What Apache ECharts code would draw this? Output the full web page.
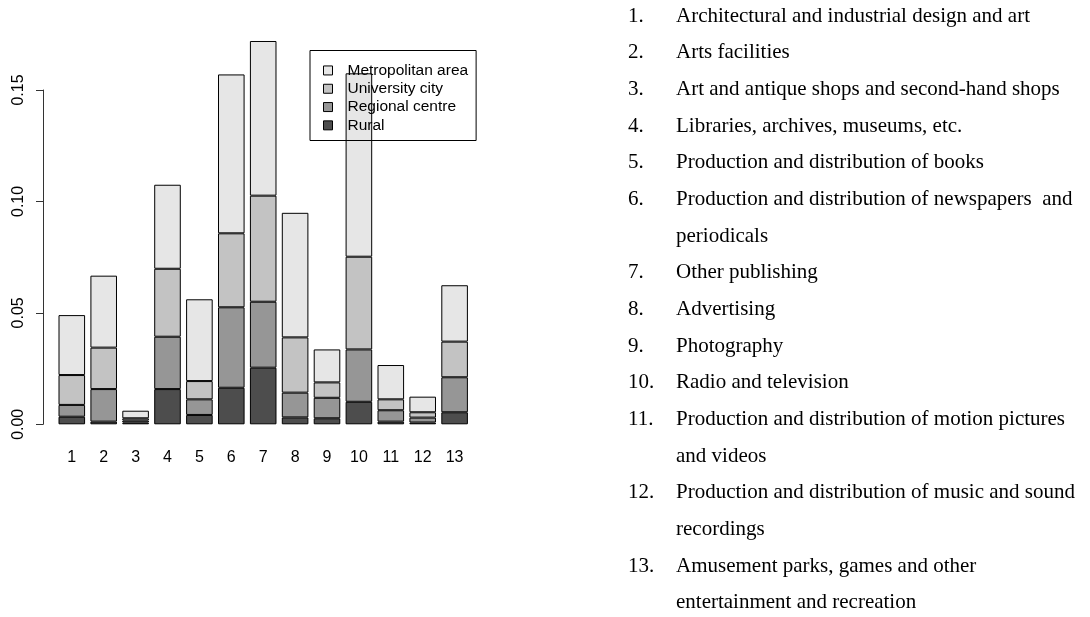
<!DOCTYPE html>
<html>
<head>
<meta charset="utf-8">
<script src="https://cdn.jsdelivr.net/npm/echarts@6/dist/echarts.min.js"></script>
<style>
html,body{margin:0;padding:0;background:#fff;}
#chart{width:1090px;height:617px;}
</style>
</head>
<body>
<div id="chart"></div>
<script>
// Categories (bar labels)
var categories = ['1','2','3','4','5','6','7','8','9','10','11','12','13'];
// Series names (legend order, top to bottom)
var seriesNames = ['Metropolitan area','University city','Regional centre','Rural'];
// Segment values (stacked from bottom: Rural, Regional centre, University city, Metropolitan area)
var rural        = [0.0034,0.0012,0.0008,0.0158,0.0042,0.0164,0.0254,0.0031,0.0027,0.0101,0.0012,0.0008,0.0054];
var regional     = [0.0053,0.0146,0.0009,0.0235,0.0070,0.0361,0.0296,0.0111,0.0092,0.0235,0.0051,0.0022,0.0157];
var university   = [0.0134,0.0186,0.0010,0.0305,0.0082,0.0332,0.0476,0.0248,0.0069,0.0416,0.0049,0.0024,0.0160];
var metropolitan = [0.0269,0.0323,0.0034,0.0377,0.0367,0.0713,0.0694,0.0559,0.0148,0.0823,0.0154,0.0070,0.0253];
// Y tick values
var yTicks = [0, 0.05, 0.10, 0.15];
// Category descriptions (each entry: wrapped lines)
var descriptions = [
  ['Architectural and industrial design and art'],
  ['Arts facilities'],
  ['Art and antique shops and second-hand shops'],
  ['Libraries, archives, museums, etc.'],
  ['Production and distribution of books'],
  ['Production and distribution of newspapers  and', 'periodicals'],
  ['Other publishing'],
  ['Advertising'],
  ['Photography'],
  ['Radio and television'],
  ['Production and distribution of motion pictures', 'and videos'],
  ['Production and distribution of music and sound', 'recordings'],
  ['Amusement parks, games and other', 'entertainment and recreation']
];

var colors = {
  'Rural': '#4d4d4d',
  'Regional centre': '#969696',
  'University city': '#c3c3c3',
  'Metropolitan area': '#e6e6e6'
};

var chart = echarts.init(document.getElementById('chart'), null, {renderer: 'canvas'});

function barSeries(name, data) {
  return {
    name: name,
    type: 'bar',
    stack: 'total',
    xAxisIndex: 0,
    yAxisIndex: 0,
    data: data,
    barCategoryGap: '16.67%',
    itemStyle: {color: colors[name], borderColor: '#000', borderWidth: 1},
    emphasis: {disabled: true}
  };
}

// Right-hand text list
var graphics = [];
var lineY0 = 17.7, lineStep = 36.67, lineIdx = 0;
descriptions.forEach(function (lines, i) {
  graphics.push({
    type: 'text', left: 628, top: lineY0 + lineStep * lineIdx - 12,
    style: {text: (i + 1) + '.', font: '21px "Liberation Serif", "Times New Roman", serif', fill: '#000'}
  });
  lines.forEach(function (ln) {
    graphics.push({
      type: 'text', left: 676, top: lineY0 + lineStep * lineIdx - 12,
      style: {text: ln, font: '21px "Liberation Serif", "Times New Roman", serif', fill: '#000'}
    });
    lineIdx++;
  });
});

var option = {
  animation: false,
  backgroundColor: '#fff',
  grid: [
    {left: 55.85, width: 414.7, top: 25.4, height: 414.5},
    {left: 43, width: 10, top: 90, height: 334.3}
  ],
  xAxis: [
    {
      type: 'category', gridIndex: 0, data: categories,
      axisLine: {show: false, onZero: false}, axisTick: {show: false},
      axisLabel: {color: '#000', fontSize: 16, fontFamily: '"Liberation Sans", Arial, sans-serif', margin: 10}
    },
    {type: 'value', gridIndex: 1, show: false, min: 0, max: 1}
  ],
  yAxis: [
    {type: 'value', gridIndex: 0, min: -0.007, max: 0.179, show: false},
    {
      type: 'value', gridIndex: 1, min: yTicks[0], max: yTicks[yTicks.length - 1], interval: 0.05,
      axisLine: {show: true, lineStyle: {color: '#333', width: 1}},
      axisTick: {show: true, length: 7, lineStyle: {color: '#333'}},
      splitLine: {show: false},
      axisLabel: {
        rotate: 90, margin: 16, color: '#000', fontSize: 16,
        fontFamily: '"Liberation Sans", Arial, sans-serif',
        formatter: function (v) { return v.toFixed(2); }
      }
    }
  ],
  legend: {
    data: seriesNames,
    orient: 'vertical',
    left: 310, top: 50.5,
    padding: [10.8, 8, 6, 13],
    itemGap: 0,
    itemWidth: 9, itemHeight: 9,
    icon: 'rect',
    borderColor: '#000', borderWidth: 1,
    backgroundColor: 'transparent',
    itemStyle: {borderColor: '#000', borderWidth: 1},
    textStyle: {color: '#000', fontSize: 15.5, lineHeight: 18.3, fontFamily: '"Liberation Sans", Arial, sans-serif', padding: [0, 0, 0, 10]},
    selectedMode: false
  },
  series: [
    barSeries('Rural', rural),
    barSeries('Regional centre', regional),
    barSeries('University city', university),
    barSeries('Metropolitan area', metropolitan)
  ],
  graphic: graphics
};

chart.setOption(option);
</script>
</body>
</html>
